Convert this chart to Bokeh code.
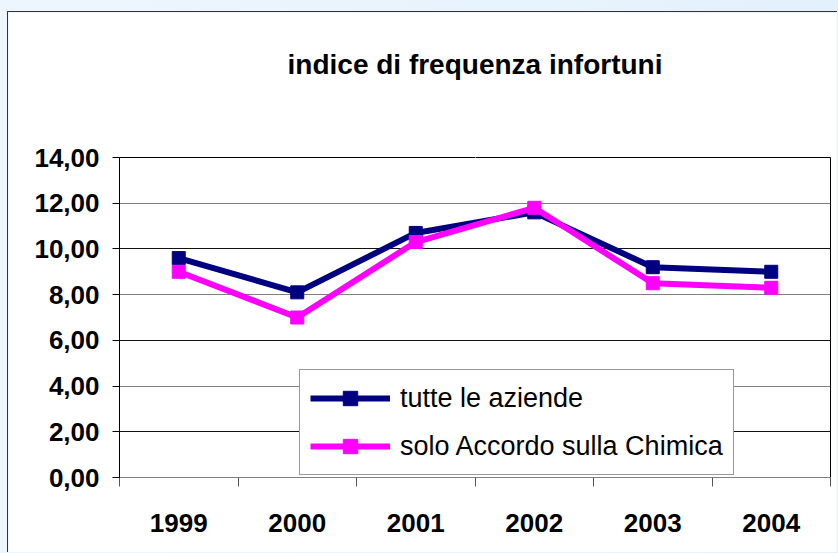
from bokeh.plotting import figure
from bokeh.models import FixedTicker, Grid, Legend, LegendItem, LinearAxis
from bokeh.embed import file_html
from bokeh.resources import INLINE

# ---- data ----
years = ["1999", "2000", "2001", "2002", "2003", "2004"]
tutte = [9.6, 8.1, 10.7, 11.6, 9.2, 9.0]
solo = [9.0, 7.0, 10.3, 11.8, 8.5, 8.3]
y_tick_values = [0, 2, 4, 6, 8, 10, 12, 14]
y_tick_labels = ["0,00", "2,00", "4,00", "6,00", "8,00", "10,00", "12,00", "14,00"]
title_text = "indice di frequenza infortuni"
label_tutte = "tutte le aziende"
label_solo = "solo Accordo sulla Chimica"

FONT = "Liberation Sans"

xs = list(range(len(years)))

p = figure(width=830, height=541, output_backend="svg", toolbar_location=None,
           x_range=(-0.5, len(years) - 0.5), y_range=(0, 14),
           min_border_left=111, min_border_right=8, min_border_top=145, min_border_bottom=76)
p.styles = {"border-left": "1px solid #333333", "border-top": "1px solid #333333"}
p.background_fill_color = "white"
p.border_fill_color = "white"
p.outline_line_color = "black"
p.outline_line_width = 1

xa = p.below[0]
ya = p.left[0]

# invisible spacer axis between the title and the plot frame (one white tick, empty label)
mid = (len(years) - 1) / 2
spacer = LinearAxis(ticker=FixedTicker(ticks=[mid], minor_ticks=[]), axis_line_color=None,
                    major_tick_line_color="white", minor_tick_line_color=None,
                    major_tick_out=76, major_tick_in=0, minor_tick_out=0, minor_tick_in=0,
                    major_label_standoff=0, major_label_overrides={mid: ""},
                    major_label_text_font_size="1px", major_label_text_color="white")
p.add_layout(spacer, "above")

p.title.text = title_text
p.title.align = "center"
p.title.vertical_align = "bottom"
p.title.text_font = FONT
p.title.text_font_style = "bold"
p.title.text_font_size = "28px"
p.title.text_color = "black"
p.title.standoff = 4

# grids
p.xgrid.visible = False
p.ygrid.visible = False
g1 = Grid(dimension=1, ticker=FixedTicker(ticks=[2, 6, 10]), grid_line_color="#111111", grid_line_width=1)
g2 = Grid(dimension=1, ticker=FixedTicker(ticks=[0, 4, 8, 12]), grid_line_color="#808080", grid_line_width=1)
p.add_layout(g1)
p.add_layout(g2)

# y axis
ya.ticker = FixedTicker(ticks=y_tick_values)
ya.major_label_overrides = {v: l for v, l in zip(y_tick_values, y_tick_labels)}
ya.axis_line_color = "black"
ya.major_tick_line_color = "black"
ya.major_tick_out = 7
ya.major_tick_in = 0
ya.minor_tick_line_color = None
ya.major_label_standoff = 13
ya.major_label_text_font = FONT
ya.major_label_text_font_style = "bold"
ya.major_label_text_font_size = "26px"
ya.major_label_text_color = "black"

# x axis
bounds = [i - 0.5 for i in range(len(years) + 1)]
xa.ticker = FixedTicker(ticks=xs, minor_ticks=bounds)
xa.major_label_overrides = {i: y for i, y in zip(xs, years)}
xa.axis_line_color = "#808080"
xa.major_tick_line_color = None
xa.major_tick_out = 0
xa.major_tick_in = 0
xa.minor_tick_line_color = "#555555"
xa.minor_tick_out = 9
xa.minor_tick_in = 0
xa.major_label_standoff = 27
xa.major_label_text_font = FONT
xa.major_label_text_font_style = "bold"
xa.major_label_text_font_size = "26px"
xa.major_label_text_color = "black"

# series
l1 = p.line(xs, tutte, line_color="#000080", line_width=6)
s1 = p.scatter(xs, tutte, marker="square", size=13, fill_color="#000080", line_color="#000080")
l2 = p.line(xs, solo, line_color="#ff00ff", line_width=6)
s2 = p.scatter(xs, solo, marker="square", size=13, fill_color="#ff00ff", line_color="#ff00ff")

legend = Legend(items=[LegendItem(label=label_tutte, renderers=[l1, s1]),
                       LegendItem(label=label_solo, renderers=[l2, s2])],
                location=(180, 2))
legend.glyph_width = 80
legend.glyph_height = 36
legend.label_height = 36
legend.spacing = 12
legend.padding = 10
legend.margin = 0
legend.label_standoff = 10
legend.label_text_font = FONT
legend.label_text_font_size = "27px"
legend.label_text_color = "black"
legend.border_line_color = "#333333"
legend.border_line_width = 1
legend.background_fill_color = "white"
legend.background_fill_alpha = 1.0
p.add_layout(legend, "center")

html = file_html(p, INLINE)
css = ("<style>body{padding:11px 0 0 7px !important;"
       "background:linear-gradient(90deg,#eef6fd,#e3f1fc) !important;}</style>")
html = html.replace("</head>", css + "</head>", 1)
open("out.html", "w").write(html)
